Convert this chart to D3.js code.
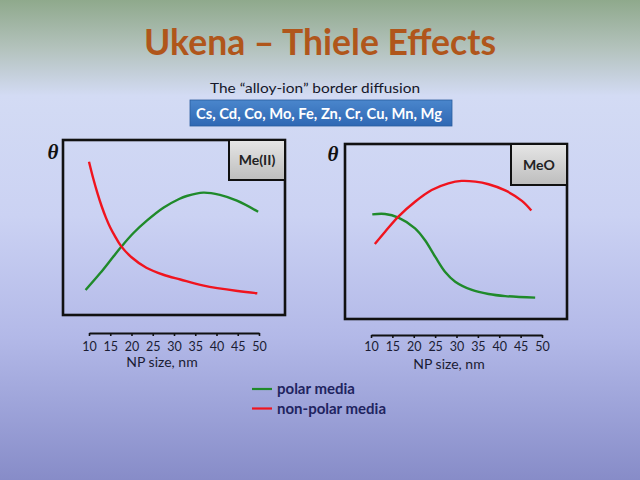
<!DOCTYPE html>
<html><head><meta charset="utf-8">
<script src="https://d3js.org/d3.v7.min.js"></script>
<style>html,body{margin:0;padding:0;overflow:hidden}svg{display:block}</style>
</head><body>
<script>
// ---- data ----
const sizeTicks = [10, 15, 20, 25, 30, 35, 40, 45, 50];
const legendLabels = ["polar media", "non-polar media"];
const elements = "Cs, Cd, Co, Mo, Fe, Zn, Cr, Cu, Mn, Mg";

// Me(II) panel
const meiiRedX   = [10, 11, 12, 13, 14, 15, 16, 17.5, 20, 23.5, 27.5, 31.5, 37, 45, 49.6];
const meiiRedY   = [87.6, 78, 69.5, 62, 55.5, 50, 45.5, 39.5, 33, 27, 23, 20.3, 16.8, 13.7, 12.4];
const meiiGreenX = [9.2, 12.6, 15.7, 17.5, 20.4, 23.6, 27.5, 31.2, 33, 36.9, 40.8, 44.8, 49.8];
const meiiGreenY = [14.3, 23.8, 33.3, 38.7, 46.7, 53.9, 61.3, 66.3, 68, 69.9, 68.6, 65.3, 59];

// MeO panel
const meoRedX   = [10.9, 13.3, 16.4, 20.3, 24.2, 28.1, 31.2, 34.4, 37.5, 41.4, 45.3, 47.5];
const meoRedY   = [42.9, 49.9, 58.5, 67, 73.7, 77.5, 78.9, 78.5, 77, 73.5, 67.5, 62];
const meoGreenX = [10.3, 13.3, 16.4, 20.3, 22.6, 25, 27.3, 29.7, 33.6, 37.5, 41.4, 48.4];
const meoGreenY = [59.8, 60, 57.9, 51.8, 45.1, 35.6, 27, 21.3, 16.6, 14.3, 13.1, 12.2];

const W = 640, H = 480;
const svg = d3.select("body").append("svg").attr("width", W).attr("height", H);
const defs = svg.append("defs");

const bg = defs.append("linearGradient").attr("id", "bg").attr("x1", 0).attr("y1", 0).attr("x2", 0).attr("y2", 1);
[[0, "#8fa98c"], [0.1, "#b3c2bc"], [0.2, "#d3dbf4"], [0.45, "#cbd2f3"], [0.7, "#b3b9e8"], [0.85, "#9da3d9"], [1, "#878cc8"]]
  .forEach(([o, c]) => bg.append("stop").attr("offset", o).attr("stop-color", c));
svg.append("rect").attr("width", W).attr("height", H).attr("fill", "url(#bg)");

const blueG = defs.append("linearGradient").attr("id", "blue").attr("x1", 0).attr("y1", 0).attr("x2", 0).attr("y2", 1);
[[0, "#4a86cc"], [1, "#2f68b4"]].forEach(([o, c]) => blueG.append("stop").attr("offset", o).attr("stop-color", c));
const grayG = defs.append("linearGradient").attr("id", "gray").attr("x1", 0).attr("y1", 0).attr("x2", 0).attr("y2", 1);
[[0, "#e6e6e6"], [1, "#bdbdbd"]].forEach(([o, c]) => grayG.append("stop").attr("offset", o).attr("stop-color", c));

const font = "Lato, 'Open Sans', sans-serif";

// title
svg.append("text").attr("x", 320).attr("y", 55).attr("text-anchor", "middle")
  .attr("font-family", font).attr("font-weight", "bold").attr("font-size", 36)
  .attr("fill", "#b0561b").attr("textLength", 352).attr("lengthAdjust", "spacingAndGlyphs")
  .text("Ukena – Thiele Effects");

svg.append("text").attr("x", 315).attr("y", 93).attr("text-anchor", "middle")
  .attr("font-family", font).attr("font-size", 14).attr("fill", "#15172a")
  .attr("textLength", 210).attr("lengthAdjust", "spacingAndGlyphs")
  .text("The “alloy-ion” border diffusion");

svg.append("rect").attr("x", 190).attr("y", 100).attr("width", 262).attr("height", 26)
  .attr("fill", "url(#blue)").attr("stroke", "#2a5c9e").attr("stroke-width", 0.8);
svg.append("text").attr("x", 319).attr("y", 119).attr("text-anchor", "middle")
  .attr("font-family", font).attr("font-weight", "bold").attr("font-size", 15).attr("fill", "#ffffff")
  .attr("textLength", 246).attr("lengthAdjust", "spacingAndGlyphs")
  .text(elements);

function panel(cfg) {
  const g = svg.append("g");
  const x = d3.scaleLinear().domain([10, 50]).range([cfg.ax0, cfg.ax1]);
  const y = d3.scaleLinear().domain([0, 100]).range([cfg.by1, cfg.by0]);
  g.append("rect").attr("x", cfg.bx0).attr("y", cfg.by0)
    .attr("width", cfg.bx1 - cfg.bx0).attr("height", cfg.by1 - cfg.by0)
    .attr("fill", "none").attr("stroke", "#111").attr("stroke-width", 2.6);
  g.append("rect").attr("x", cfg.lx).attr("y", cfg.by0).attr("width", cfg.bx1 - cfg.lx).attr("height", cfg.lh)
    .attr("fill", "url(#gray)").attr("stroke", "#111").attr("stroke-width", 2);
  g.append("text").attr("x", (cfg.lx + cfg.bx1) / 2).attr("y", cfg.by0 + cfg.lh / 2 + 5)
    .attr("text-anchor", "middle").attr("font-family", font).attr("font-weight", "bold")
    .attr("font-size", 14).attr("fill", "#222").text(cfg.label);
  g.append("text").attr("x", cfg.tx).attr("y", cfg.ty).attr("text-anchor", "middle")
    .attr("font-family", "'Liberation Serif', 'DejaVu Serif', serif").attr("font-style", "italic")
    .attr("font-weight", "bold").attr("font-size", 21).attr("fill", "#111").text("θ");
  const line = d3.line().x(d => x(d[0])).y(d => y(d[1])).curve(d3.curveCatmullRom.alpha(0.5));
  g.append("path").datum(d3.zip(cfg.gx, cfg.gy)).attr("d", line)
    .attr("fill", "none").attr("stroke", "#1f8a2a").attr("stroke-width", 2.4);
  g.append("path").datum(d3.zip(cfg.rx, cfg.ry)).attr("d", line)
    .attr("fill", "none").attr("stroke", "#f0141e").attr("stroke-width", 2.4);
  const axis = g.append("g").attr("transform", `translate(0,${cfg.ay})`)
    .call(d3.axisBottom(x).tickValues(sizeTicks).tickSize(3).tickSizeOuter(0).tickPadding(cfg.tp).tickFormat(d3.format("d")));
  axis.select(".domain").attr("stroke", "#111").attr("stroke-width", 2);
  axis.selectAll(".tick line").attr("stroke", "#111").attr("stroke-width", 1.6);
  axis.selectAll(".tick text").attr("font-family", font).attr("font-size", 12.5).attr("fill", "#1a1c33");
  g.append("text").attr("x", cfg.nx).attr("y", cfg.ny).attr("text-anchor", "middle")
    .attr("font-family", font).attr("font-size", 14).attr("fill", "#1a1c33").text("NP size, nm");
}

panel({ bx0: 63, bx1: 285, by0: 140, by1: 315, ax0: 89, ax1: 259, ay: 333, tp: 6,
  lx: 229, lh: 40, label: "Me(II)", tx: 53, ty: 159, nx: 162, ny: 367,
  rx: meiiRedX, ry: meiiRedY, gx: meiiGreenX, gy: meiiGreenY });
panel({ bx0: 345, bx1: 567, by0: 144, by1: 319, ax0: 371, ax1: 542, ay: 335, tp: 4,
  lx: 511, lh: 41, label: "MeO", tx: 333, ty: 161, nx: 449, ny: 369,
  rx: meoRedX, ry: meoRedY, gx: meoGreenX, gy: meoGreenY });

const legColors = ["#1f8a2a", "#f0141e"];
const leg = svg.append("g");
legendLabels.forEach((t, i) => {
  const yy = 389 + i * 19.5;
  leg.append("line").attr("x1", 252).attr("x2", 272).attr("y1", yy).attr("y2", yy)
    .attr("stroke", legColors[i]).attr("stroke-width", 2.2);
  leg.append("text").attr("x", 277).attr("y", yy + 5).attr("font-family", font)
    .attr("font-weight", "bold").attr("font-size", 15).attr("fill", "#1f2460").text(t);
});
</script>
</body></html>
